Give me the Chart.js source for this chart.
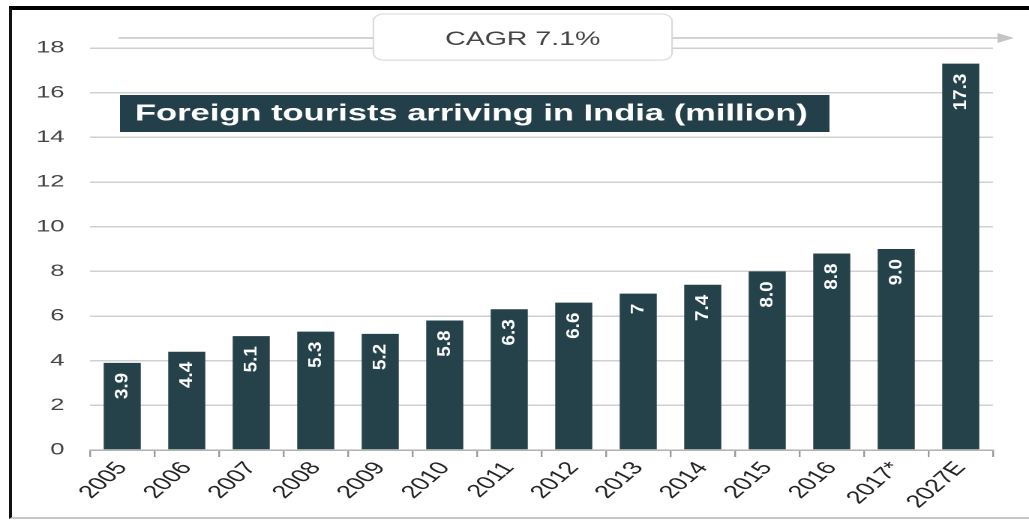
<!DOCTYPE html>
<html>
<head>
<meta charset="utf-8">
<script src="https://cdn.jsdelivr.net/npm/chart.js@4/dist/chart.umd.min.js"></script>
<style>
  html, body { margin: 0; padding: 0; background: #fff; overflow: hidden; }
  #stage {
    position: absolute; left: 0; top: 0;
    width: 686px; height: 521px;
    transform: scaleX(1.5); transform-origin: 0 0;
  }
  #frame {
    position: absolute; left: 9px; top: 6px;
    width: 1020px; height: 513px; box-sizing: border-box;
    border-top: 4px solid #000; border-left: 3px solid #111;
    border-bottom: 2px solid #c8c8c8;
    pointer-events: none;
  }
</style>
</head>
<body>
<div id="stage"><canvas id="barChart" width="686" height="521"></canvas></div>
<div id="frame"></div>

<script>
// Chegadas de turistas estrangeiros na Índia (milhões)
const anos = ['2005', '2006', '2007', '2008', '2009', '2010', '2011', '2012', '2013', '2014', '2015', '2016', '2017*', '2027E'];
const turistas = [3.9, 4.4, 5.1, 5.3, 5.2, 5.8, 6.3, 6.6, 7, 7.4, 8.0, 8.8, 9.0, 17.3];
const rotulos = ['3.9', '4.4', '5.1', '5.3', '5.2', '5.8', '6.3', '6.6', '7', '7.4', '8.0', '8.8', '9.0', '17.3'];
const yTicks = [0, 2, 4, 6, 8, 10, 12, 14, 16, 18];

const titulo = 'Foreign tourists arriving in India (million)';
const cagr = 'CAGR 7.1%';

const FONTE = "'Liberation Sans', Arial, sans-serif";
const COR_BARRA = '#25424a';

// rótulos verticais dentro das barras
const valorNasBarras = {
  id: 'valorNasBarras',
  afterDatasetsDraw(chart) {
    const ctx = chart.ctx;
    const meta = chart.getDatasetMeta(0);
    ctx.save();
    ctx.fillStyle = '#fff';
    ctx.font = 'bold 18px ' + FONTE;
    ctx.textAlign = 'right';
    ctx.textBaseline = 'middle';
    meta.data.forEach((bar, i) => {
      ctx.save();
      ctx.translate(bar.x, bar.y + 10);
      ctx.rotate(-Math.PI / 2);
      ctx.scale(1.05, 0.66);
      ctx.fillText(rotulos[i], 0, 0);
      ctx.restore();
    });
    ctx.restore();
  }
};

// seta do CAGR e caixa de título
const anotacoes = {
  id: 'anotacoes',
  afterDraw(chart) {
    const ctx = chart.ctx;
    ctx.save();

    // linha da seta
    ctx.strokeStyle = '#c4c4c4';
    ctx.lineWidth = 1.5;
    ctx.beginPath();
    ctx.moveTo(79, 38); ctx.lineTo(249, 38);
    ctx.moveTo(448, 38); ctx.lineTo(666, 38);
    ctx.stroke();
    ctx.fillStyle = '#c4c4c4';
    ctx.beginPath();
    ctx.moveTo(665, 33); ctx.lineTo(676, 38); ctx.lineTo(665, 43);
    ctx.closePath();
    ctx.fill();

    // caixa CAGR
    ctx.shadowColor = 'rgba(0,0,0,0.10)';
    ctx.shadowBlur = 4;
    ctx.shadowOffsetY = 1;
    ctx.fillStyle = '#fff';
    ctx.beginPath();
    ctx.roundRect(249, 14, 199, 46, 7);
    ctx.fill();
    ctx.shadowColor = 'transparent';
    ctx.strokeStyle = '#dadada';
    ctx.lineWidth = 1;
    ctx.stroke();
    ctx.fillStyle = '#444';
    ctx.font = '19px ' + FONTE;
    ctx.textAlign = 'center';
    ctx.textBaseline = 'middle';
    ctx.fillText(cagr, 348.5, 40);

    // título
    ctx.fillStyle = '#23404a';
    ctx.fillRect(80, 95, 473, 37);
    ctx.fillStyle = '#fff';
    ctx.font = 'bold 23px ' + FONTE;
    ctx.textAlign = 'left';
    ctx.fillText(titulo, 90, 114);

    ctx.restore();
  }
};

const ctx = document.getElementById('barChart').getContext('2d');

new Chart(ctx, {
  type: 'bar',
  data: {
    labels: anos,
    datasets: [{
      data: turistas,
      backgroundColor: COR_BARRA,
      borderWidth: 0,
      categoryPercentage: 1,
      barPercentage: 0.575,
    }]
  },
  options: {
    responsive: false,
    animation: false,
    devicePixelRatio: 2,
    layout: { padding: { left: 0, right: 24, top: 48, bottom: 0 } },
    plugins: {
      legend: { display: false },
      tooltip: { enabled: false },
    },
    scales: {
      x: {
        afterFit: s => { s.height = 71; },
        grid: {
          drawOnChartArea: false,
          drawTicks: true,
          tickLength: 7,
          color: '#999',
          lineWidth: 1.2,
        },
        border: { display: true, color: '#aaa', width: 1.2 },
        ticks: {
          font: { family: FONTE, size: 18 },
          color: '#222',
          minRotation: 52,
          maxRotation: 52,
          padding: 1,
          autoSkip: false,
        }
      },
      y: {
        min: 0,
        max: 18,
        afterFit: s => { s.width = 60; },
        afterBuildTicks: s => { s.ticks = yTicks.map(v => ({ value: v })); },
        grid: { color: '#d0d0d0', lineWidth: 1.5, drawTicks: false },
        border: { display: false },
        ticks: {
          font: { family: FONTE, size: 17 },
          color: '#444',
          padding: 17,
        }
      }
    }
  },
  plugins: [valorNasBarras, anotacoes]
});
</script>
</body>
</html>
